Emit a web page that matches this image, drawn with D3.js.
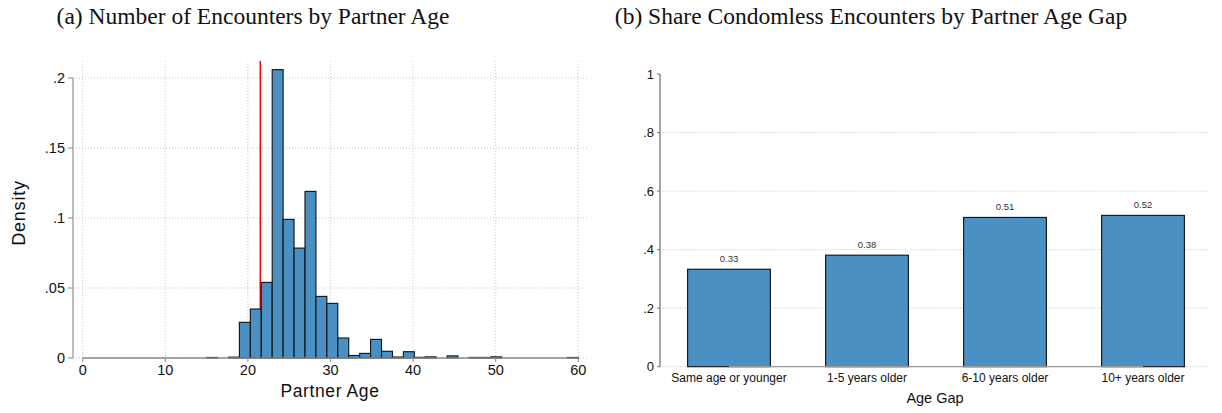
<!DOCTYPE html>
<html>
<head>
<meta charset="utf-8">
<script src="https://cdn.jsdelivr.net/npm/d3@7"></script>
<style>
    body { margin: 0; background: #fff; }
    .title { font-family: "Liberation Serif", serif; font-size: 23.5px; fill: #111; }
    .grid line { stroke: #c8c8c8; stroke-width: 1; stroke-dasharray: 1, 2; }
    .tick-lbl { font-family: "Liberation Sans", Arial, sans-serif; fill: #111; }
</style>
</head>
<body>
<div id="chart"></div>
<script>
// panel (a): histogram of partner age
var ageMin = 15,
    ageMax = 60,
    ageBinCount = 34;
var ageDensity = [0.0004, 0, 0.0006, 0.0255, 0.035, 0.054, 0.206, 0.099, 0.0785, 0.119,
    0.044, 0.039, 0.0143, 0.0018, 0.0033, 0.0133, 0.0048, 0.0007, 0.0045, 0.0005,
    0.0008, 0, 0.0015, 0, 0.0004, 0.0004, 0.0008, 0, 0, 0, 0, 0, 0, 0.0004];
var ageTicks = [0, 10, 20, 30, 40, 50, 60];
var densityTicks = [0, 0.05, 0.1, 0.15, 0.2];
var densityLabels = ["0", ".05", ".1", ".15", ".2"];
var ownAge = 21.5;

// panel (b): share condomless by age gap
var gapCategories = ["Same age or younger", "1-5 years older", "6-10 years older", "10+ years older"];
var gapShare = [0.333, 0.381, 0.51, 0.517];
var shareTicks = [0, 0.2, 0.4, 0.6, 0.8, 1];
var shareLabels = ["0", ".2", ".4", ".6", ".8", "1"];

var barColor = "#4a90c3";

var svg = d3.select("#chart")
    .append("svg")
    .attr("width", 1222)
    .attr("height", 413);

function drawHistogram() {
    var left = 73, right = 587, top = 61, bottom = 358;

    var xScale = d3.scaleLinear()
        .domain([0, 60])
        .range([82.7, 578.3]);

    var yScale = d3.scaleLinear()
        .domain([0, 0.2])
        .range([bottom, 78]);

    var binWidth = (ageMax - ageMin) / ageBinCount;
    var bins = ageDensity.map(function(d, i) {
        return { x0: ageMin + i * binWidth, x1: ageMin + (i + 1) * binWidth, density: d };
    });

    var g = svg.append("g");

    g.append("text")
        .attr("class", "title")
        .attr("x", 253)
        .attr("y", 24)
        .attr("text-anchor", "middle")
        .text("(a) Number of Encounters by Partner Age");

    // gridlines
    var grid = g.append("g").attr("class", "grid");
    grid.selectAll(".hg")
        .data(densityTicks)
        .enter().append("line")
        .attr("x1", left)
        .attr("x2", right)
        .attr("y1", function(d) { return yScale(d); })
        .attr("y2", function(d) { return yScale(d); });
    grid.selectAll(".vg")
        .data(ageTicks)
        .enter().append("line")
        .attr("x1", function(d) { return xScale(d); })
        .attr("x2", function(d) { return xScale(d); })
        .attr("y1", top)
        .attr("y2", bottom);

    // red reference line, bars go on top of it
    g.append("line")
        .attr("x1", xScale(ownAge))
        .attr("x2", xScale(ownAge))
        .attr("y1", top)
        .attr("y2", bottom)
        .attr("stroke", "#ff0000")
        .attr("stroke-width", 1.5);

    g.selectAll(".bar")
        .data(bins.filter(function(d) { return d.density > 0; }))
        .enter().append("rect")
        .attr("class", "bar")
        .attr("x", function(d) { return xScale(d.x0); })
        .attr("y", function(d) { return yScale(d.density); })
        .attr("width", function(d) { return xScale(d.x1) - xScale(d.x0); })
        .attr("height", function(d) { return bottom - yScale(d.density); })
        .attr("fill", barColor)
        .attr("stroke", "#111")
        .attr("stroke-width", 1.1);

    // axes
    g.append("line")
        .attr("x1", left).attr("x2", left)
        .attr("y1", yScale(0.2)).attr("y2", bottom)
        .attr("stroke", "#999").attr("stroke-width", 1.3);
    g.append("line")
        .attr("x1", xScale(0)).attr("x2", xScale(60))
        .attr("y1", bottom).attr("y2", bottom)
        .attr("stroke", "#888").attr("stroke-width", 1.3);

    g.selectAll(".ytick")
        .data(densityTicks)
        .enter().append("line")
        .attr("x1", left - 5).attr("x2", left)
        .attr("y1", function(d) { return yScale(d); })
        .attr("y2", function(d) { return yScale(d); })
        .attr("stroke", "#888");
    g.selectAll(".ylbl")
        .data(densityTicks)
        .enter().append("text")
        .attr("class", "tick-lbl")
        .attr("x", left - 8)
        .attr("y", function(d) { return yScale(d) + 5; })
        .attr("text-anchor", "end")
        .style("font-size", "14.5px")
        .text(function(d, i) { return densityLabels[i]; });

    g.selectAll(".xtick")
        .data(ageTicks)
        .enter().append("line")
        .attr("x1", function(d) { return xScale(d); })
        .attr("x2", function(d) { return xScale(d); })
        .attr("y1", bottom).attr("y2", bottom + 4)
        .attr("stroke", "#888");
    g.selectAll(".xlbl")
        .data(ageTicks)
        .enter().append("text")
        .attr("class", "tick-lbl")
        .attr("x", function(d) { return xScale(d); })
        .attr("y", bottom + 17)
        .attr("text-anchor", "middle")
        .style("font-size", "14.5px")
        .text(function(d) { return d; });

    g.append("text")
        .attr("class", "tick-lbl")
        .attr("x", (left + right) / 2)
        .attr("y", 397)
        .attr("text-anchor", "middle")
        .style("font-size", "17.5px")
        .style("letter-spacing", "0.6px")
        .text("Partner Age");

    g.append("text")
        .attr("class", "tick-lbl")
        .attr("transform", "translate(25,213) rotate(-90)")
        .attr("text-anchor", "middle")
        .style("font-size", "18px")
        .style("letter-spacing", "0.8px")
        .text("Density");
}

function drawGapBars() {
    var left = 660, right = 1212, bottom = 366.7;

    var xScale = d3.scaleBand()
        .domain(gapCategories)
        .range([left, right])
        .paddingInner(0.4)
        .paddingOuter(0.2);

    var yScale = d3.scaleLinear()
        .domain([0, 1])
        .range([bottom, 74]);

    var g = svg.append("g");

    g.append("text")
        .attr("class", "title")
        .attr("x", 871)
        .attr("y", 24)
        .attr("text-anchor", "middle")
        .text("(b) Share Condomless Encounters by Partner Age Gap");

    var grid = g.append("g").attr("class", "grid");
    grid.selectAll("line")
        .data(shareTicks.filter(function(d) { return d < 1; }))
        .enter().append("line")
        .attr("x1", left)
        .attr("x2", right - 2)
        .attr("y1", function(d) { return yScale(d); })
        .attr("y2", function(d) { return yScale(d); })
        .style("stroke-dasharray", "1,1.5");

    g.selectAll(".bar")
        .data(gapShare)
        .enter().append("rect")
        .attr("class", "bar")
        .attr("x", function(d, i) { return xScale(gapCategories[i]); })
        .attr("y", function(d) { return yScale(d); })
        .attr("width", xScale.bandwidth())
        .attr("height", function(d) { return bottom - yScale(d); })
        .attr("fill", barColor)
        .attr("stroke", "#111")
        .attr("stroke-width", 1.1);

    g.selectAll(".val")
        .data(gapShare)
        .enter().append("text")
        .attr("class", "tick-lbl")
        .attr("x", function(d, i) { return xScale(gapCategories[i]) + xScale.bandwidth() / 2; })
        .attr("y", function(d) { return yScale(d) - 7; })
        .attr("text-anchor", "middle")
        .style("font-size", "9.5px")
        .style("fill", "#333")
        .text(d3.format(".2f"));

    // axes
    g.append("line")
        .attr("x1", left).attr("x2", left)
        .attr("y1", yScale(1)).attr("y2", bottom)
        .attr("stroke", "#777").attr("stroke-width", 1.3);
    var firstMid = xScale(gapCategories[0]) + xScale.bandwidth() / 2,
        lastMid = xScale(gapCategories[3]) + xScale.bandwidth() / 2;
    g.append("line")
        .attr("x1", firstMid).attr("x2", lastMid)
        .attr("y1", bottom).attr("y2", bottom)
        .attr("stroke", "#999").attr("stroke-width", 1.3);

    g.selectAll(".ytick")
        .data(shareTicks)
        .enter().append("line")
        .attr("x1", left - 3).attr("x2", left)
        .attr("y1", function(d) { return yScale(d); })
        .attr("y2", function(d) { return yScale(d); })
        .attr("stroke", "#777");
    g.selectAll(".ylbl")
        .data(shareTicks)
        .enter().append("text")
        .attr("class", "tick-lbl")
        .attr("x", left - 6)
        .attr("y", function(d) { return yScale(d) + 4.5; })
        .attr("text-anchor", "end")
        .style("font-size", "13px")
        .text(function(d, i) { return shareLabels[i]; });

    g.selectAll(".xlbl")
        .data(gapCategories)
        .enter().append("text")
        .attr("class", "tick-lbl")
        .attr("x", function(d) { return xScale(d) + xScale.bandwidth() / 2; })
        .attr("y", 381.5)
        .attr("text-anchor", "middle")
        .style("font-size", "12px")
        .text(function(d) { return d; });

    g.append("text")
        .attr("class", "tick-lbl")
        .attr("x", 935)
        .attr("y", 402.5)
        .attr("text-anchor", "middle")
        .style("font-size", "14.5px")
        .text("Age Gap");
}

drawHistogram();
drawGapBars();
</script>
</body>
</html>
